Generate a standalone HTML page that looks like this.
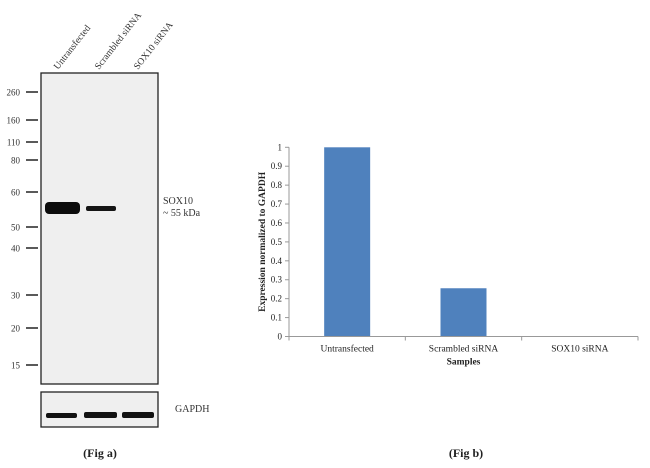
<!DOCTYPE html>
<html><head><meta charset="utf-8"><style>
body{margin:0;background:#fff;}
svg{display:block;font-family:"Liberation Serif",serif;}
</style></head><body>
<svg id="fig" width="650" height="468" viewBox="0 0 650 468">
  <g>
    <g font-size="9.5" fill="#333">
      <text transform="translate(58,70) rotate(-52)">Untransfected</text>
      <text transform="translate(99,70) rotate(-52)">Scrambled siRNA</text>
      <text transform="translate(138,70) rotate(-52)">SOX10 siRNA</text>
    </g>
    <rect x="41" y="73" width="117" height="311" fill="#efefef" stroke="#222" stroke-width="1.3"/>
    <g id="markers"></g>
    <rect x="45" y="202" width="35" height="12" rx="4" fill="#0c0c0c"/>
    <rect x="86" y="206" width="30" height="5" rx="2" fill="#151515"/>
    <text x="163" y="204" font-size="10" fill="#333">SOX10</text>
    <text x="163" y="216" font-size="10" fill="#333">~ 55 kDa</text>
    <rect x="41" y="392" width="117" height="35" fill="#efefef" stroke="#222" stroke-width="1.3"/>
    <rect x="46" y="413" width="31" height="5" rx="2" fill="#111"/>
    <rect x="84" y="412" width="33" height="6" rx="2" fill="#111"/>
    <rect x="122" y="412" width="32" height="6" rx="2" fill="#111"/>
    <text x="175" y="412" font-size="10" fill="#333">GAPDH</text>
    <text x="100" y="457" font-size="12" font-weight="bold" text-anchor="middle" fill="#222">(Fig a)</text>
  </g>
  <g id="chart"></g>
  <text x="466" y="457" font-size="12" font-weight="bold" text-anchor="middle" fill="#222">(Fig b)</text>
</svg>
<script>
const markerLabels = ["260","160","110","80","60","50","40","30","20","15"];
const markerY = [92,120,142,160,192,227,248,295,328,365];
const categories = ["Untransfected","Scrambled siRNA","SOX10 siRNA"];
const values = [1.0, 0.255, 0];
const yTicks = [0,0.1,0.2,0.3,0.4,0.5,0.6,0.7,0.8,0.9,1];
const yTickLabels = ["0","0.1","0.2","0.3","0.4","0.5","0.6","0.7","0.8","0.9","1"];

const NS = "http://www.w3.org/2000/svg";
function mk(tag, attrs, parent){const e=document.createElementNS(NS,tag);for(const k in attrs)e.setAttribute(k,attrs[k]);parent.appendChild(e);return e;}

const mg = document.getElementById('markers');
markerLabels.forEach((l,i)=>{
  const t = mk('text',{x:20,y:markerY[i]+3.5,'font-size':9,'text-anchor':'end',fill:'#333'},mg);
  t.textContent = l;
  
  
  const ln = mk('line',{x1:26,x2:38,y1:markerY[i],y2:markerY[i],stroke:'#222','stroke-width':1.5},mg);
  
  
});

const g = document.getElementById('chart');
const X0 = 289, X1 = 638, Y0 = 336.5, Ytop = 147.3;
const yScale = v => Y0 - (v/1)*(Y0-Ytop);
const band = (X1-X0)/categories.length;
const xCenter = i => X0 + band*(i+0.5);
const barW = 46;

const yAxis = mk('line',{x1:X0,x2:X0,y1:Ytop,y2:Y0,stroke:'#999','stroke-width':1},g);


yTicks.forEach((v,i)=>{
  const y = yScale(v);
  const tk = mk('line',{x1:X0-4,x2:X0,y1:y,y2:y,stroke:'#999'},g);
  
  
  const t = mk('text',{x:X0-7,y:y+3,'font-size':9,'text-anchor':'end',fill:'#222'},g);
  t.textContent = yTickLabels[i];
  
  
});
values.forEach((v,i)=>{
  const y = yScale(v);
  const r = mk('rect',{x:xCenter(i)-barW/2,y:y,width:barW,height:Y0-y,fill:'#4f81bd'},g);
  
  
});
const xAxis = mk('line',{x1:X0,x2:X1,y1:Y0,y2:Y0,stroke:'#999','stroke-width':1},g);


for(let i=0;i<=categories.length;i++){
  const x = X0+band*i;
  const tk = mk('line',{x1:x,x2:x,y1:Y0,y2:Y0+4,stroke:'#999'},g);
  
  
}
categories.forEach((c,i)=>{
  const t = mk('text',{x:xCenter(i),y:Y0+15,'font-size':9.5,'text-anchor':'middle',fill:'#222'},g);
  t.textContent = c;
  
  
});
const xt = mk('text',{x:X0+band*1.5,y:Y0+28,'font-size':9.5,'font-weight':'bold','text-anchor':'middle',fill:'#222'},g);
xt.textContent = 'Samples';


const yt = mk('text',{transform:'translate(265,'+((Y0+Ytop)/2)+') rotate(-90)','font-size':9.5,'font-weight':'bold','text-anchor':'middle',fill:'#222'},g);
yt.textContent = 'Expression  normalized to GAPDH';


</script>
</body></html>
